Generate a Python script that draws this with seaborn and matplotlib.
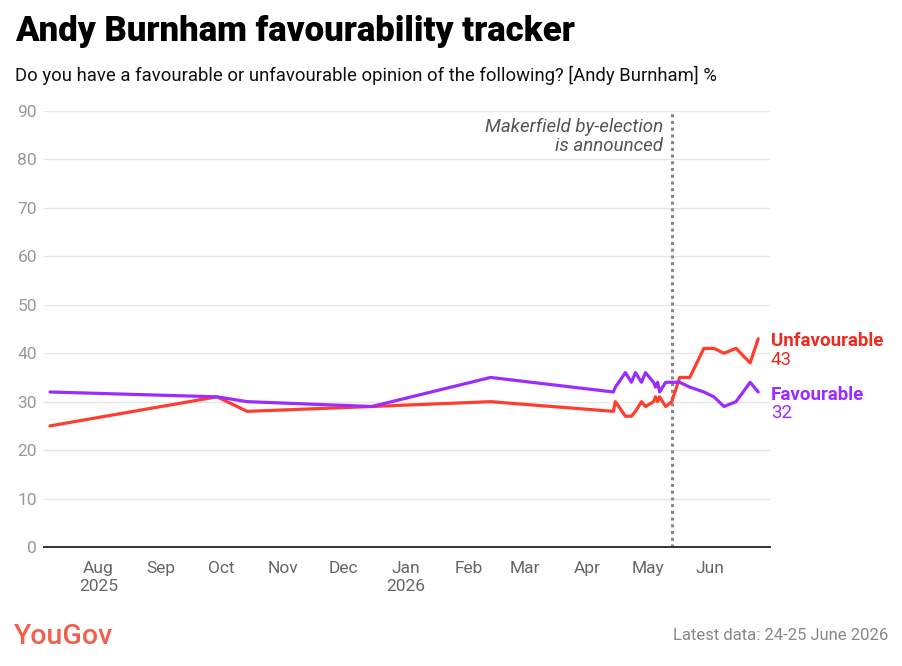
import pandas as pd
import matplotlib.pyplot as plt
import matplotlib.dates as mdates
import seaborn as sns

# data
dates = ["2025-07-08", "2025-09-29", "2025-10-14", "2025-12-15", "2026-02-12",
         "2026-04-14", "2026-04-15", "2026-04-20", "2026-04-23", "2026-04-25",
         "2026-04-28", "2026-04-30", "2026-05-04", "2026-05-05", "2026-05-06",
         "2026-05-07", "2026-05-10", "2026-05-13", "2026-05-17", "2026-05-22",
         "2026-05-29", "2026-06-03", "2026-06-08", "2026-06-14", "2026-06-21",
         "2026-06-25"]
unfavourable = [25, 31, 28, 29, 30, 28, 30, 27, 27, 28, 30, 29, 30, 31, 30,
                31, 29, 30, 35, 35, 41, 41, 40, 41, 38, 43]
favourable = [32, 31, 30, 29, 35, 32, 33, 36, 34, 36, 34, 36, 34, 33, 34,
              32, 34, 34, 34, 33, 32, 31, 29, 30, 34, 32]
month_ticks = ["2025-08-01", "2025-09-01", "2025-10-01", "2025-11-01", "2025-12-01",
               "2026-01-01", "2026-02-01", "2026-03-01", "2026-04-01", "2026-05-01",
               "2026-06-01"]
month_labels = ["Aug\n2025", "Sep", "Oct", "Nov", "Dec", "Jan\n2026", "Feb", "Mar",
                "Apr", "May", "Jun"]
event_date = "2026-05-13"
event_label = "Makerfield by-election\nis announced"

RED = "#ff3d2e"
PURPLE = "#9b2cff"

df = pd.DataFrame({"date": pd.to_datetime(dates),
                   "Unfavourable": unfavourable,
                   "Favourable": favourable})
long_df = df.melt(id_vars="date", var_name="opinion", value_name="pct")

sns.set_theme(style="white")
plt.rcParams['font.family'] = ['Roboto', 'DejaVu Sans']

fig = plt.figure(figsize=(9.03, 6.66), dpi=100)
ax = fig.add_axes([0.0487, 0.1787, 0.8043, 0.6546])

sns.lineplot(data=long_df, x="date", y="pct", hue="opinion",
             palette={"Unfavourable": RED, "Favourable": PURPLE},
             hue_order=["Unfavourable", "Favourable"],
             linewidth=2.3, legend=False, ax=ax, zorder=3)

ax.set_ylim(0, 90)
ax.set_yticks(range(0, 91, 10))
ax.set_xlim(pd.Timestamp("2025-07-05"), pd.Timestamp("2026-07-01"))
ax.set_xticks(pd.to_datetime(month_ticks))
ax.set_xticklabels(month_labels, linespacing=1.3)
ax.tick_params(axis="x", colors="#666666", labelsize=12.5, length=0, pad=10)
ax.tick_params(axis="y", colors="#999999", labelsize=12.5, length=0, pad=5)
ax.set_xlabel("")
ax.set_ylabel("")

ax.grid(axis="y", color="#e6e6e6", linewidth=1)
ax.set_axisbelow(True)
for side in ["top", "right", "left"]:
    ax.spines[side].set_visible(False)
ax.spines["bottom"].set_color("#333333")
ax.spines["bottom"].set_linewidth(1.4)
ax.spines["bottom"].set_zorder(4)

# event marker
ev = pd.Timestamp(event_date)
ax.axvline(ev, color="#888888", linestyle=(0, (1, 1.2)), linewidth=2.2, zorder=2)
ax.annotate(event_label, xy=(mdates.date2num(ev), 90), xycoords="data",
            xytext=(-6, -5), textcoords="offset points", ha="right", va="top",
            fontsize=13.5, style="italic", color="#555555", linespacing=1.1)

# end labels
last = df.iloc[-1]
for name, color in [("Unfavourable", "#ee2a1e"), ("Favourable", PURPLE)]:
    val = last[name]
    ax.annotate(name, xy=(1.0, val), xycoords=("axes fraction", "data"),
                xytext=(0.5, -2), textcoords="offset points", ha="left", va="center",
                fontsize=13.5, fontweight="bold", color=color, annotation_clip=False)
    ax.annotate(f"{val}", xy=(1.0, val), xycoords=("axes fraction", "data"),
                xytext=(0.5, -15), textcoords="offset points", ha="left", va="center",
                fontsize=13.5, color=color, annotation_clip=False)

# titles
fig.text(15 / 903, 1 - 32 / 666, "Andy Burnham favourability tracker",
         fontsize=25, fontweight="black", color="black", va="center", ha="left")
fig.text(15 / 903, 1 - 75 / 666,
         "Do you have a favourable or unfavourable opinion of the following? [Andy Burnham] %",
         fontsize=13.3, color="#111111", va="center", ha="left")

# footer
fig.text(14 / 903, 1 - 636 / 666, "YouGov", fontsize=20.5, fontweight="medium",
         color="#f2604c", va="center", ha="left")
fig.text(888 / 903, 1 - 636 / 666, "Latest data: 24-25 June 2026", fontsize=12,
         color="#888888", va="center", ha="right")

fig.savefig("out.png", dpi=100)
